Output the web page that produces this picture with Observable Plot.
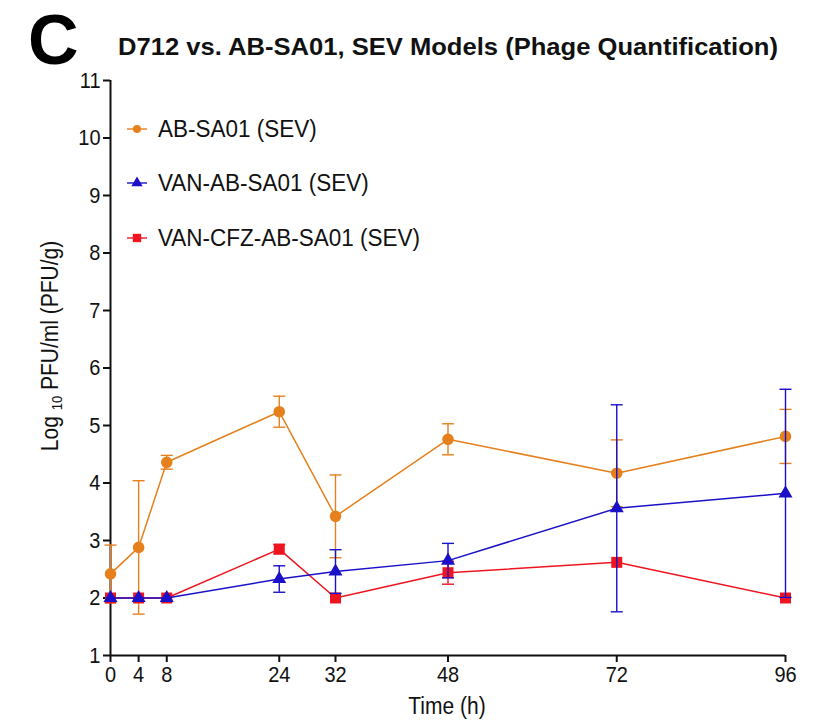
<!DOCTYPE html>
<html>
<head>
<meta charset="utf-8">
<script src="https://cdn.jsdelivr.net/npm/d3@7"></script>
<script src="https://cdn.jsdelivr.net/npm/@observablehq/plot@0.6"></script>
<style>
  html, body { margin: 0; padding: 0; background: #fff; }
  #chart svg { display: block; }
</style>
</head>
<body>
<div id="chart"></div>
<script>
const times = [0, 4, 8, 24, 32, 48, 72, 96];
const xTicks = [0, 4, 8, 24, 32, 48, 72, 96];
const yTicks = [1, 2, 3, 4, 5, 6, 7, 8, 9, 10, 11];

const seriesNames = ["AB-SA01 (SEV)", "VAN-AB-SA01 (SEV)", "VAN-CFZ-AB-SA01 (SEV)"];
const seriesColors = ["#E5801C", "#1A10C8", "#EE1520"];
const seriesSymbols = ["circle", "triangle", "square"];

const abMean  = [2.42, 2.88, 4.36, 5.24, 3.42, 4.76, 4.17, 4.81];
const abSd    = [0.50, 1.16, 0.12, 0.27, 0.72, 0.27, 0.58, 0.47];
const vanMean = [2.00, 2.00, 2.00, 2.33, 2.46, 2.65, 3.56, 3.82];
const vanSd   = [0.00, 0.00, 0.00, 0.23, 0.38, 0.30, 1.80, 1.81];
const cfzMean = [2.00, 2.00, 2.00, 2.85, 2.00, 2.44, 2.62, 2.00];
const cfzSd   = [0.00, 0.00, 0.00, 0.08, 0.00, 0.20, 0.00, 0.00];

const means = [abMean, vanMean, cfzMean];
const sds = [abSd, vanSd, cfzSd];

// draw order: orange, red, blue (blue on top)
const drawOrder = [0, 2, 1];
const rows = [];
for (const s of drawOrder) {
  times.forEach((t, i) => {
    rows.push({series: seriesNames[s], t, m: means[s][i], sd: sds[s][i],
               lo: means[s][i] - sds[s][i], hi: means[s][i] + sds[s][i]});
  });
}
const errRows = rows.filter(d => d.sd > 0);

const capSymbol = {
  draw(ctx, size) {
    const w = Math.sqrt(size / Math.PI);
    ctx.moveTo(-w, 0);
    ctx.lineTo(w, 0);
  }
};

const colorScale = {domain: seriesNames, range: seriesColors};
const symbolScale = {domain: seriesNames, range: seriesSymbols};
const markerR = [5.8, 5.2, 6.2];

const marks = [];
for (const s of drawOrder) {
  const name = seriesNames[s];
  const sub = rows.filter(d => d.series === name);
  const subErr = errRows.filter(d => d.series === name);
  marks.push(
    Plot.ruleX(subErr, {x: "t", y1: "lo", y2: "hi", stroke: "series", strokeWidth: 1.4}),
    Plot.dot(subErr, {x: "t", y: "hi", symbol: capSymbol, r: 6, stroke: "series", fill: "none", strokeWidth: 1.4}),
    Plot.dot(subErr, {x: "t", y: "lo", symbol: capSymbol, r: 6, stroke: "series", fill: "none", strokeWidth: 1.4}),
    Plot.line(sub, {x: "t", y: "m", stroke: "series", strokeWidth: 1.5}),
    Plot.dot(sub, {x: "t", y: "m", symbol: "series", fill: "series", stroke: "none", r: markerR[s]})
  );
}

const FONT = "'Liberation Sans', Arial, Helvetica, sans-serif";

const chart = Plot.plot({
  width: 823,
  height: 721,
  marginLeft: 110,
  marginRight: 38,
  marginTop: 80,
  marginBottom: 66,
  style: {fontFamily: FONT, fontSize: "20px", color: "#111", background: "#fff"},
  x: {domain: [0, 96], label: null},
  y: {domain: [1, 11], label: null},
  color: colorScale,
  symbol: symbolScale,
  marks: [
    Plot.ruleX([0], {stroke: "#111", strokeWidth: 2}),
    Plot.ruleY([1], {stroke: "#111", strokeWidth: 2}),
    Plot.axisX({ticks: xTicks, tickSize: 7, tickPadding: 4, tickFormat: d => String(d), fontSize: 20, strokeWidth: 2}),
    Plot.axisY({ticks: yTicks, tickSize: 7, tickPadding: 3, tickFormat: d => String(d), fontSize: 20, strokeWidth: 2}),
    ...marks
  ]
});

const svg = d3.select(chart);

// slightly taller glyphs, as in the reference
svg.selectAll("g[aria-label$='tick label'] text").each(function() {
  const el = d3.select(this);
  const tr = el.attr("transform") || "";
  el.attr("transform", tr + " scale(1,1.12)");
});

// Panel letter and title
svg.append("text").attr("x", 28).attr("y", 63.5).attr("text-anchor", "start")
  .attr("font-family", FONT)
  .attr("font-weight", "bold").attr("font-size", 70).attr("fill", "#000").text("C");
svg.append("text").attr("x", 118).attr("y", 55).attr("text-anchor", "start")
  .attr("font-family", FONT)
  .attr("font-weight", "bold").attr("font-size", 24).attr("fill", "#111")
  .attr("textLength", 660).attr("lengthAdjust", "spacingAndGlyphs")
  .text("D712 vs. AB-SA01, SEV Models (Phage Quantification)");

// Axis labels
svg.append("text").attr("transform", "translate(447,714) scale(1,1.1)").attr("text-anchor", "middle")
  .attr("font-family", FONT).attr("font-size", 21).attr("fill", "#111")
  .text("Time (h)");
const yl = svg.append("text").attr("transform", "translate(58,346) rotate(-90) scale(1,1.1)").attr("text-anchor", "middle")
  .attr("font-family", FONT).attr("font-size", 21).attr("fill", "#111");
yl.append("tspan").text("Log ");
yl.append("tspan").attr("font-size", 13).attr("dy", 4).text("10");
yl.append("tspan").attr("dy", -4).text(" PFU/ml (PFU/g)");

// Legend
const legendY = [129, 183, 238];
seriesNames.forEach((name, i) => {
  const g = svg.append("g").attr("transform", `translate(137,${legendY[i]})`);
  g.append("line").attr("x1", -10).attr("x2", 10).attr("stroke", seriesColors[i]).attr("stroke-width", 1.4);
  g.append("path").attr("d", d3.symbol(
      i === 0 ? d3.symbolCircle : i === 1 ? d3.symbolTriangle : d3.symbolSquare,
      i === 0 ? 50 : i === 1 ? 55 : 70)()).attr("fill", seriesColors[i]);
  g.append("text").attr("transform", "translate(21,8) scale(1,1.1)").attr("text-anchor", "start")
    .attr("font-family", FONT).attr("font-size", 22.5).attr("fill", "#111")
    .text(name);
});

document.getElementById("chart").appendChild(chart);
</script>
</body>
</html>
